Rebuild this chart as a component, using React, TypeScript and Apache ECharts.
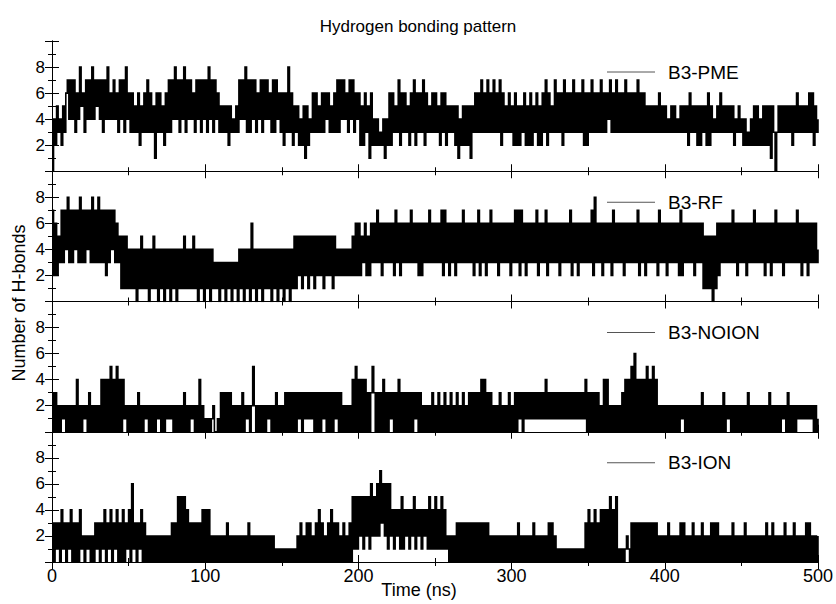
import React, { useEffect, useRef } from "react";
import * as echarts from "echarts";

// Time axis (ns) and tick labels
const timeTicks = [0, 100, 200, 300, 400, 500];
const yTicks = [2, 4, 6, 8];
const seriesNames = ["B3-PME", "B3-RF", "B3-NOION", "B3-ION"];

const pmeHBonds = [
  "0425342536", "7474736485", "6374748475", "7473748464", "7463747384",
  "6363536253", "6373635163", "6352637374", "8473748374", "7463747374",
  "7384737463", "5353525343", "5374748373", "7473647374", "7463737463",
  "6263836253", "5242515243", "6363536364", "6353637374", "7463747364",
  "6252635162", "4242324142", "6263537263", "6352637263", "6372635363",
  "6352636253", "5352514252", "5251536363", "7363736373", "6372635363",
  "5262525362", "5262536252", "6372635373", "6362736363", "7363637262",
  "6373636373", "6364736373", "6363736363", "6373636353", "5353536353",
  "5343535343", "5353526353", "5252535262", "5343536353", "5353524353",
  "4242324252", "5242525251", "5303535353", "5352536353", "5353636253",
  "4",
];

const rfHBonds = [
  "7262537374", "8373747383", "7374738373", "8373727374", "7363515151",
  "4141404151", "4140415140", "4140414041", "4041415141", "4151404140",
  "4140413130", "3130313031", "3041404140", "6140414041", "4140414041",
  "4041404151", "5251525152", "5152525152", "5251524242", "4242425262",
  "6253625263", "6373626363", "6362736263", "6363736362", "6263637363",
  "6363727362", "6362636373", "6363626372", "6362637363", "6263636362",
  "6373727362", "6363637263", "6372636363", "6263636372", "6362636363",
  "6372836362", "6363627363", "6362636363", "6372636263", "6363627363",
  "6263636362", "7263636362", "6363615151", "5051626363", "6363736263",
  "6362636373", "6363626362", "6373636263", "6363637362", "6362636363",
  "4",
];

const noionHBonds = [
  "3030202120", "2020204020", "2120302020", "2040404050", "4050404120",
  "2020203020", "2120202021", "2020212120", "2020203020", "2120204020",
  "1010120010", "3030303020", "2020302120", "2520202020", "2120203020",
  "2030303030", "3130313131", "3030303130", "3030313030", "2020204050",
  "4040403035", "3030304030", "3130304030", "3030303130", "3020202030",
  "2030203020", "3020302030", "2030303030", "4040303020", "2030202030",
  "2030313031", "3131313131", "3141313131", "3131313131", "3131313140",
  "3030303020", "4040202020", "2030404050", "6040404050", "4050402020",
  "2020202020", "2120202020", "2020302020", "2020202030", "2120202020",
  "2020302020", "2020202030", "2020202120", "3020202121", "2121212020",
  "1",
];

const ionHBonds = [
  "3031304130", "3140303041", "2021202031", "3031403140", "3140304031",
  "4061303140", "3020202020", "2020202030", "3050505040", "3030303040",
  "4040202020", "2020302020", "2020202030", "2020202020", "2020201010",
  "1010101010", "2030203030", "2030403020", "3040303020", "3020305151",
  "5251525162", "5262736261", "6241424151", "4241425142", "4142415141",
  "5141514120", "2020303030", "3030303030", "3030302020", "2020202020",
  "2020302020", "2020302020", "2020303020", "1010101010", "1010101030",
  "4030403040", "4040504050", "1010121030", "3030303030", "3030302020",
  "2030202020", "3030202030", "2020302020", "3030302020", "2020302020",
  "2030202020", "2020203020", "3020202030", "2020302020", "2030302020",
  "2",
];

const toValues = (chunks: string[]) => chunks.join("").split("").map(Number);
const allSeries = [pmeHBonds, rfHBonds, noionHBonds, ionHBonds].map(toValues);

const W = 836;
const H = 604;
const LEFT = 52;
const RIGHT = 818;
const TOP = 41;
const PANEL_H = 130.25;
const FONT = "Liberation Sans, Arial, Helvetica, sans-serif";

export default function App() {
  const ref = useRef<HTMLDivElement>(null);

  useEffect(() => {
    if (!ref.current) return;
    const chart = echarts.init(ref.current, undefined, { renderer: "svg", width: W, height: H });

    const grids: any[] = [];
    const xAxes: any[] = [];
    const yAxes: any[] = [];
    const series: any[] = [];
    const graphics: any[] = [];

    const axisLine = { show: true, lineStyle: { color: "#000", width: 1 } };
    const majorTick = { show: true, inside: true, length: 7, lineStyle: { color: "#000" } };
    const minorTick = { show: true, splitNumber: 2, length: 4, lineStyle: { color: "#000" } };

    for (let i = 0; i < 4; i++) {
      const top = TOP + i * PANEL_H;
      grids.push({ left: LEFT, width: RIGHT - LEFT, top, height: PANEL_H, containLabel: false });
      const isBottom = i === 3;
      xAxes.push({
        type: "value",
        gridIndex: i,
        position: "bottom",
        min: 0,
        max: 500,
        interval: 100,
        axisLine,
        axisTick: majorTick,
        minorTick,
        splitLine: { show: false },
        axisLabel: {
          show: isBottom,
          margin: 5,
          fontSize: 18,
          color: "#000",
          fontFamily: FONT,
          formatter: (v: number) => (timeTicks.includes(v) ? String(v) : ""),
        },
      });
      xAxes.push({
        type: "value",
        gridIndex: i,
        position: "top",
        min: 0,
        max: 500,
        interval: 100,
        axisLine,
        axisTick: majorTick,
        minorTick,
        splitLine: { show: false },
        axisLabel: { show: false },
      });
      yAxes.push({
        type: "value",
        gridIndex: i,
        position: "left",
        min: 0,
        max: 10,
        interval: 2,
        axisLine,
        axisTick: majorTick,
        minorTick,
        splitLine: { show: false },
        axisLabel: {
          show: true,
          margin: 7,
          fontSize: 17,
          color: "#000",
          fontFamily: FONT,
          formatter: (v: number) => (yTicks.includes(v) ? String(v) : ""),
        },
      });
      yAxes.push({
        type: "value",
        gridIndex: i,
        position: "right",
        min: 0,
        max: 10,
        interval: 2,
        axisLine,
        axisTick: majorTick,
        minorTick,
        splitLine: { show: false },
        axisLabel: { show: false },
      });

      const values = allSeries[i];
      series.push({
        name: seriesNames[i],
        type: "line",
        xAxisIndex: 2 * i,
        yAxisIndex: 2 * i,
        step: "end",
        showSymbol: false,
        symbol: "none",
        clip: true,
        lineStyle: { color: "#000", width: 1.6, join: "miter", cap: "butt" },
        data: values.map((v, t) => [t, v]),
      });

      const ly = top + 31;
      graphics.push({
        type: "line",
        shape: { x1: 607, y1: ly, x2: 655, y2: ly },
        style: { stroke: "#555", lineWidth: 1 },
      });
      graphics.push({
        type: "text",
        x: 668,
        y: ly,
        style: {
          text: seriesNames[i],
          fill: "#000",
          fontSize: 19,
          fontFamily: FONT,
          textAlign: "left",
          textVerticalAlign: "middle",
        },
      });
    }

    graphics.push({
      type: "text",
      x: 19,
      y: 303,
      rotation: Math.PI / 2,
      style: {
        text: "Number of H-bonds",
        fill: "#000",
        fontSize: 18,
        fontFamily: FONT,
        textAlign: "center",
        textVerticalAlign: "middle",
      },
    });
    graphics.push({
      type: "text",
      x: 419,
      y: 590,
      style: {
        text: "Time (ns)",
        fill: "#000",
        fontSize: 18,
        fontFamily: FONT,
        textAlign: "center",
        textVerticalAlign: "middle",
      },
    });

    chart.setOption({
      animation: false,
      backgroundColor: "#fff",
      title: {
        text: "Hydrogen bonding pattern",
        left: "center",
        top: 13,
        textStyle: { fontSize: 17, fontWeight: "normal", color: "#000", fontFamily: FONT },
      },
      grid: grids,
      xAxis: xAxes,
      yAxis: yAxes,
      series,
      graphic: graphics,
    });

    return () => chart.dispose();
  }, []);

  return (
    <div
      ref={ref}
      style={{ position: "fixed", left: 0, top: 0, width: W, height: H, background: "#fff" }}
    />
  );
}
